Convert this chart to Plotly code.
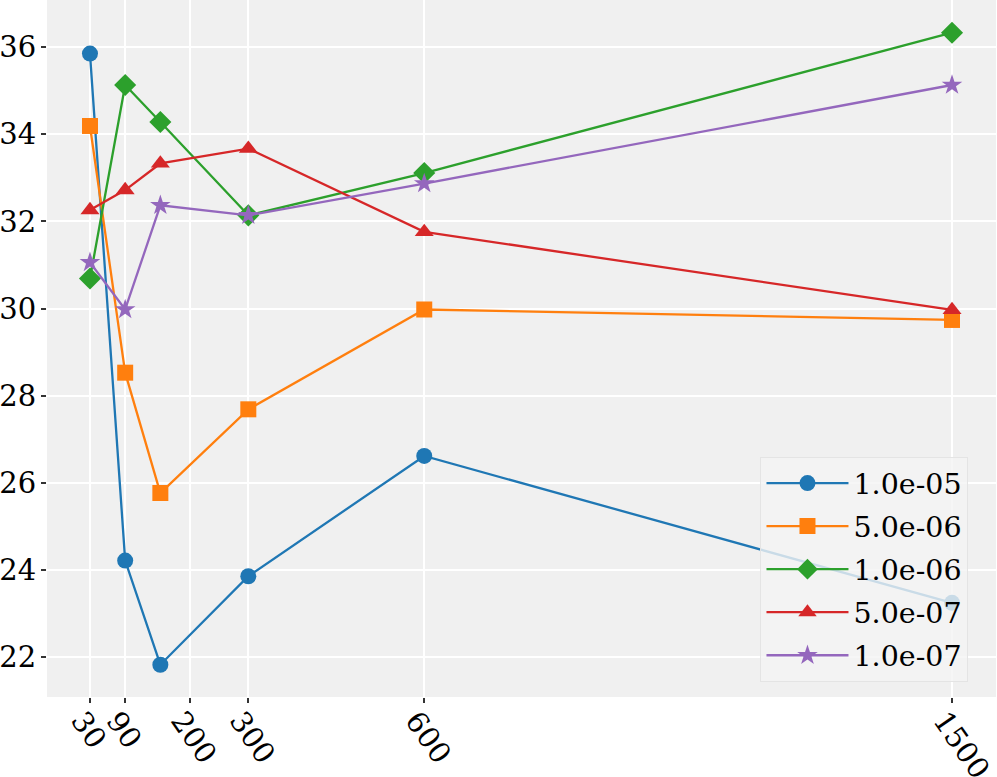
import plotly.graph_objects as go

x_vals = [30, 90, 150, 300, 600, 1500]
tick_vals = [30, 90, 200, 300, 600, 1500]
tick_text = ["30", "90", "200", "300", "600", "1500"]

labels = ["1.0e-05", "5.0e-06", "1.0e-06", "5.0e-07", "1.0e-07"]
s_1e05 = [35.85, 24.22, 21.83, 23.86, 26.62, 23.25]
s_5e06 = [34.19, 28.53, 25.77, 27.69, 29.98, 29.74]
s_1e06 = [30.69, 35.13, 34.28, 32.14, 33.11, 36.33]
s_5e07 = [32.26, 32.72, 33.33, 33.67, 31.76, 29.97]
s_1e07 = [31.06, 29.98, 32.37, 32.14, 32.87, 35.13]
series = [s_1e05, s_5e06, s_1e06, s_5e07, s_1e07]

colors = ["#1f77b4", "#ff7f0e", "#2ca02c", "#d62728", "#9467bd"]
symbols = ["circle", "square", "diamond", "triangle-up", "star"]
sizes = [16, 16, 17, 16.5, 15.5]

fig = go.Figure()
for lab, ys, c, sym, sz in zip(labels, series, colors, symbols, sizes):
    fig.add_trace(go.Scatter(
        x=x_vals, y=ys, name=lab, mode="lines+markers",
        line=dict(color=c, width=2.3),
        marker=dict(symbol=sym, size=sz, color=c, line=dict(width=0)),
        legendgroup=lab,
    ))

font_family = "DejaVu Serif"
fig.update_layout(
    width=997, height=777,
    margin=dict(l=47, r=1, t=0, b=80),
    paper_bgcolor="white",
    plot_bgcolor="#f0f0f0",
    font=dict(family=font_family, size=29, color="black"),
    showlegend=True,
    legend=dict(
        x=0.971, y=0.0215, xanchor="right", yanchor="bottom",
        bgcolor="rgba(244,244,244,0.8)",
        bordercolor="#e4e4e4", borderwidth=1,
        font=dict(family=font_family, size=28.5, color="black"),
        tracegroupgap=3,
        itemwidth=82,
    ),
    xaxis=dict(
        range=[-43.3, 1575],
        tickmode="array", tickvals=tick_vals, ticktext=tick_text,
        tickangle=55, ticklabelshift=-8, ticklabelstandoff=-11,
        ticklabeloverflow="allow",
        showgrid=True, gridcolor="white", gridwidth=1.5,
        zeroline=False, automargin=False,
        ticks="outside", ticklen=5, tickwidth=1.5, tickcolor="#333333",
        showline=False,
    ),
    yaxis=dict(
        range=[21.09, 37.08],
        tickmode="array", tickvals=[22, 24, 26, 28, 30, 32, 34, 36],
        ticklabelstandoff=-1, ticklabeloverflow="allow",
        showgrid=True, gridcolor="white", gridwidth=1.5,
        zeroline=False, automargin=False,
        ticks="outside", ticklen=5, tickwidth=1.5, tickcolor="#333333",
        showline=False,
    ),
)

fig.write_html("out.html", config={"displayModeBar": False},
               post_script="document.body.style.margin='0px';")
